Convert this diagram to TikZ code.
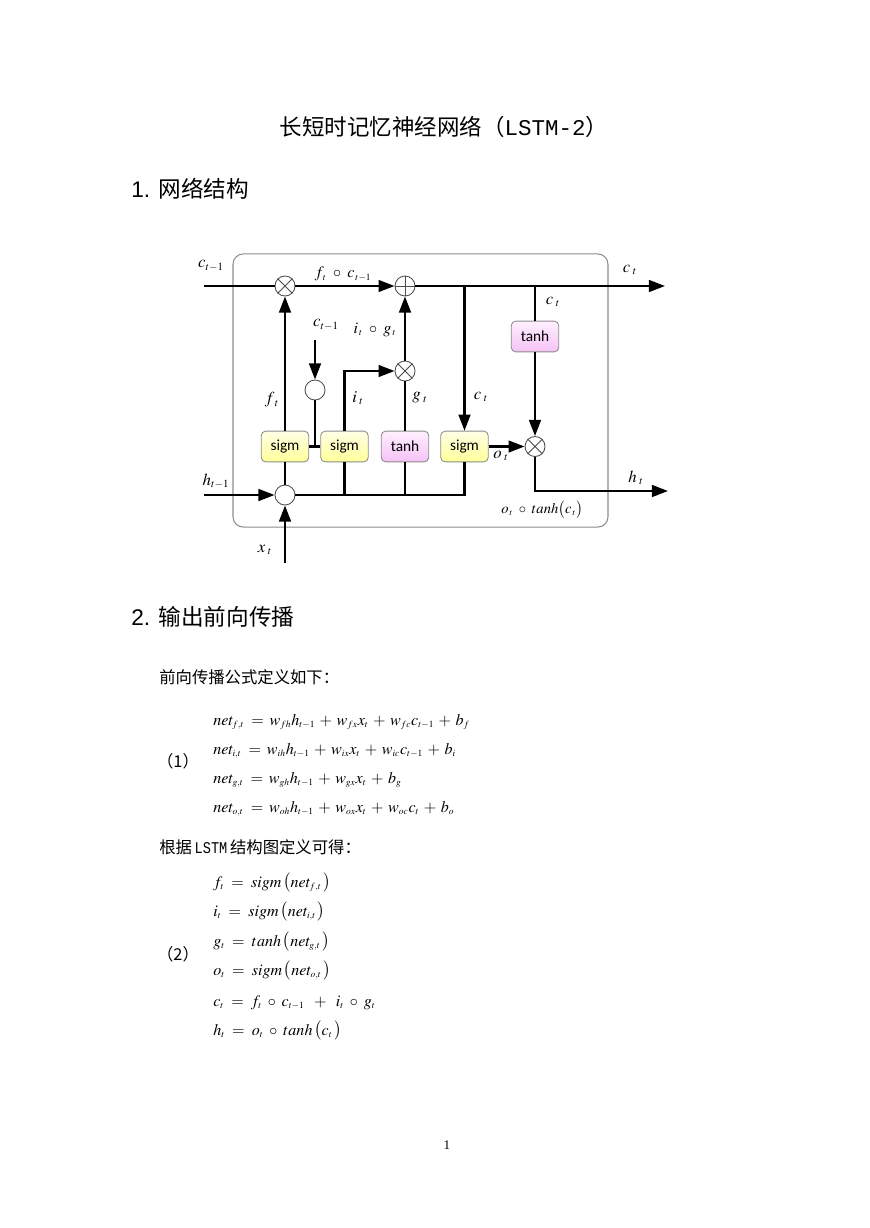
\documentclass[tikz,border=0pt]{standalone}
\usepackage{mathptmx}
\usepackage{fontspec}
\setmainfont{Liberation Serif}
\newfontfamily\cjk{Noto Sans CJK SC}
\newfontfamily\arialf{Liberation Sans}
\newfontfamily\calib{Carlito}
\newfontfamily\monot{Liberation Mono}
\newfontfamily\monob[FakeStretch=0.83]{Liberation Mono}
\DeclareMathSizes{11}{11}{6.5}{5}
\DeclareMathSizes{11.5}{11.5}{7.5}{5.5}
\DeclareMathSizes{10}{10}{6}{5}
\usetikzlibrary{arrows.meta}
\definecolor{sigtop}{HTML}{FFFFE6}
\definecolor{sigbot}{HTML}{FFFF99}
\definecolor{tantop}{HTML}{FFF0FF}
\definecolor{tanbot}{HTML}{F5C2F5}
\definecolor{framecol}{HTML}{8C8C8C}
\tikzset{
  wire/.style={line width=1.6pt},
  arr/.style={line width=1.6pt, -{Triangle[length=11pt,width=8pt]}},
  op/.style={circle, draw=black!70, line width=0.6pt, minimum size=13.7pt, inner sep=0pt, fill=white},
  opline/.style={draw=black!70, line width=0.5pt},
  gatebox/.style={rounded corners=3pt, draw=black!45, line width=0.6pt, minimum width=32.5pt, minimum height=21pt, inner sep=0pt, font=\calib\fontsize{10.5}{12}\selectfont},
  gsig/.style={gatebox, top color=sigtop, bottom color=sigbot},
  gtanh/.style={gatebox, top color=tantop, bottom color=tanbot},
  lbl/.style={inner sep=0pt, font=\fontsize{11.5}{13}\selectfont},
  eqn/.style={inner sep=0pt, anchor=base west, font=\fontsize{11}{13}\selectfont},
  cjkt/.style={inner sep=0pt, font=\cjk\fontsize{11.2}{13}\selectfont},
  head/.style={inner sep=0pt, anchor=west, font=\fontsize{15.5}{18}\selectfont}
}
\begin{document}
\begin{tikzpicture}[x=0.6848pt,y=-0.6848pt]
\fill[white] (0,0) rectangle (869,1228);
\useasboundingbox (0,0) rectangle (869,1228);

% title and headings
\node[inner sep=0pt, font=\cjk\fontsize{15.4}{18}\selectfont] (title) at (444,127) {长短时记忆神经网络（{\monot LSTM-2}）};
\node[head] (h1) at (131,189) {{\arialf 1. }{\cjk 网络结构}};
\node[head] (h2) at (131,617) {{\arialf 2. }{\cjk 输出前向传播}};

% frame
\node[draw=framecol, line width=0.7pt, rounded corners=7pt, minimum width=256.8pt, minimum height=187pt, inner sep=0pt] (cell) at (420.5,390.5) {};

% gate boxes
\node[gsig] (s1) at (285,446.5) {sigm};
\node[gsig] (s2) at (344.5,446.5) {sigm};
\node[gtanh] (t1) at (405,446.5) {tanh};
\node[gsig] (s3) at (464.5,446.5) {sigm};
\node[gtanh] (t2) at (535,336.5) {tanh};

% operators
\node[op] (m1) at (285,286) {};
\node[op] (a1) at (405,286) {};
\node[op] (m2) at (405,371) {};
\node[op] (e1) at (315,390) {};
\node[op] (m3) at (535,446.5) {};
\node[op] (in1) at (285,495) {};

% free ends
\coordinate (cL) at (204,286);
\coordinate (cR) at (665,286);
\coordinate (j1) at (464.5,286);
\coordinate (j2) at (535,286);
\coordinate (cm) at (315,340);
\coordinate (sJ) at (315,446.5);
\coordinate (hL) at (204,495);
\coordinate (xB) at (285,563);
\coordinate (hR) at (668,491);

% wires
\draw[wire] (cL) -- (m1);
\draw[arr] (m1) -- (a1);
\draw[arr] (a1) -- (cR);
\draw[arr] (j1) -- (s3);
\draw[wire] (j2) -- (t2);
\draw[arr] (t2) -- (m3);
\draw[arr] (s1) -- (m1);
\draw[arr] (cm) -- (e1);
\draw[wire] (e1) -- (sJ);
\draw[wire] (s1.east) -- (s2.west);
\draw[arr] (s2.north) |- (m2);
\draw[wire] (t1) -- (m2);
\draw[arr] (m2) -- (a1);
\draw[arr] (hL) -- (in1);
\draw[arr] (xB) -- (in1);
\draw[wire] (in1) -- (s1);
\draw[wire] (in1) -| (s3.south);
\draw[wire] (s2.south) -- (s2.south |- in1);
\draw[wire] (t1.south) -- (t1.south |- in1);
\draw[arr] (s3) -- (m3);
\draw[arr] (m3) |- (hR);

% operator glyphs
\foreach \n in {m1,m2,m3}
  \draw[opline] (\n.north west) -- (\n.south east) (\n.north east) -- (\n.south west);
\draw[opline] (a1.north) -- (a1.south) (a1.west) -- (a1.east);

% diagram labels
\node[lbl] (lc0) at (211,266) {$c_{t-1}$};
\node[lbl, font=\fontsize{11}{13}\selectfont] (lfc) at (343,274) {$f_{\,t}\ \circ\ c_{\,t-1}$};
\node[lbl] (lcR) at (630,270) {$c_{\;t}$};
\node[lbl] (lcT) at (553,302) {$c_{\;t}$};
\node[lbl] (lc1) at (326,325) {$c_{t-1}$};
\node[lbl, font=\fontsize{11}{13}\selectfont] (lig) at (375,330) {$i_{\,t}\ \circ\ g_{\,t}$};
\node[lbl] (lf) at (272,400) {$f_{\;t}$};
\node[lbl] (li) at (358,398) {$i_{\;t}$};
\node[lbl] (lg) at (420,398) {$g_{\;t}$};
\node[lbl] (lc) at (481,397) {$c_{\;t}$};
\node[lbl] (lo) at (501,456) {$o_{\;t}$};
\node[lbl] (lh0) at (216,481) {$h_{t-1}$};
\node[lbl] (lh) at (636,478) {$h_{\;t}$};
\node[lbl, font=\fontsize{10}{12}\selectfont] (lot) at (542,510) {$o_{\,t}\ \circ\ tanh\bigl(c_{\,t}\bigr)$};
\node[lbl] (lx) at (265,550) {$x_{\;t}$};

% section 2 text
\node[cjkt, anchor=west] (p1) at (159,677) {前向传播公式定义如下：};
\node[cjkt] (n1) at (178,761) {（1）};
\node[eqn] (e1a) at (213,725) {$net_{f,t} \;=\: w_{fh}h_{t-1} \:+\: w_{fx}x_t \:+\: w_{fc}c_{t-1} \:+\: b_f$};
\node[eqn] (e1b) at (213,754) {$net_{i,t} \;=\: w_{ih}h_{t-1} \:+\: w_{ix}x_t \:+\: w_{ic}c_{t-1} \:+\: b_i$};
\node[eqn] (e1c) at (213,783) {$net_{g,t} \;=\: w_{gh}h_{t-1} \:+\: w_{gx}x_t \:+\: b_g$};
\node[eqn] (e1d) at (213,812) {$net_{o,t} \;=\: w_{oh}h_{t-1} \:+\: w_{ox}x_t \:+\: w_{oc}c_t \:+\: b_o$};

\node[cjkt, anchor=west] (p2) at (159,847) {根据\,{\monob LSTM}\,结构图定义可得：};
\node[cjkt] (n2) at (178,954) {（2）};
\node[eqn] (e2a) at (213,887) {$f_t \;=\; sigm\,\bigl(net_{f,t}\,\bigr)$};
\node[eqn] (e2b) at (213,916) {$i_t \;=\; sigm\,\bigl(net_{i,t}\,\bigr)$};
\node[eqn] (e2c) at (213,946) {$g_t \;=\; tanh\,\bigl(net_{g,t}\,\bigr)$};
\node[eqn] (e2d) at (213,975) {$o_t \;=\; sigm\,\bigl(net_{o,t}\,\bigr)$};
\node[eqn] (e2e) at (213,1006) {$c_t \;=\; f_t \;\circ\; c_{t-1}\;\; + \;\; i_t \;\circ\; g_t$};
\node[eqn] (e2f) at (213,1035) {$h_t \;=\; o_t \;\circ\; tanh\,\bigl(c_t\,\bigr)$};

\node[inner sep=0pt, font=\fontsize{9}{10}\selectfont] (pg) at (447,1145) {1};
\end{tikzpicture}
\end{document}
